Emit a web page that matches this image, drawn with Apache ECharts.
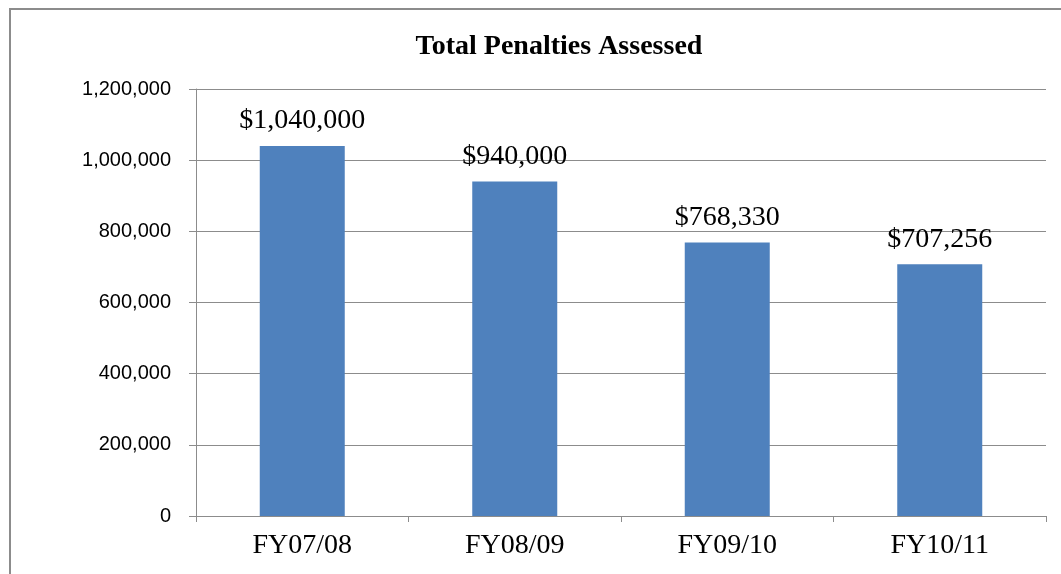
<!DOCTYPE html>
<html>
<head>
<meta charset="utf-8">
<script src="https://cdn.jsdelivr.net/npm/echarts@6/dist/echarts.min.js"></script>
<style>
  html, body { margin: 0; padding: 0; background: #fff; overflow: hidden; }
  #frame {
    position: absolute; left: 9px; top: 8px;
    width: 1080px; height: 600px;
    border: 2px solid #8c8c8c; box-sizing: border-box;
  }
  #chart { position: absolute; left: 0; top: 0; width: 1061px; height: 574px; }
</style>
</head>
<body>
<div id="frame"></div>
<div id="chart"></div>
<script>
const categories = ['FY07/08', 'FY08/09', 'FY09/10', 'FY10/11'];
const penalties = [1040000, 940000, 768330, 707256];
const yTicks = [0, 200000, 400000, 600000, 800000, 1000000, 1200000];

const chart = echarts.init(document.getElementById('chart'));

chart.setOption({
  animation: false,
  title: {
    text: 'Total Penalties Assessed',
    left: 554, top: 28, textAlign: 'center',
    textStyle: { fontFamily: 'Liberation Serif', fontWeight: 'bold', fontSize: 28, color: '#000' }
  },
  grid: { left: 196, right: 15, top: 89, bottom: 58 },
  xAxis: {
    type: 'category',
    data: categories,
    axisLine: { lineStyle: { color: '#8c8c8c', width: 1 } },
    axisTick: { show: true, alignWithLabel: false, length: 6, lineStyle: { color: '#8c8c8c' } },
    axisLabel: { fontFamily: 'Liberation Serif', fontSize: 28, color: '#000', margin: 16 }
  },
  yAxis: {
    type: 'value',
    min: yTicks[0],
    max: yTicks[yTicks.length - 1],
    interval: yTicks[1] - yTicks[0],
    axisLine: { show: true, lineStyle: { color: '#8c8c8c', width: 1 } },
    axisTick: { show: true, inside: false, length: 7, lineStyle: { color: '#8c8c8c' } },
    splitLine: { lineStyle: { color: '#8c8c8c', width: 1 } },
    axisLabel: {
      fontFamily: 'Liberation Sans', fontSize: 20, color: '#000', margin: 25,
      formatter: v => v.toLocaleString('en-US')
    }
  },
  series: [{
    type: 'bar',
    data: penalties,
    barWidth: '40%',
    itemStyle: { color: '#4f81bd' },
    label: {
      show: true, position: 'top', distance: 11,
      fontFamily: 'Liberation Serif', fontSize: 28, color: '#000',
      formatter: p => '$' + p.value.toLocaleString('en-US')
    }
  }]
});
</script>
</body>
</html>
